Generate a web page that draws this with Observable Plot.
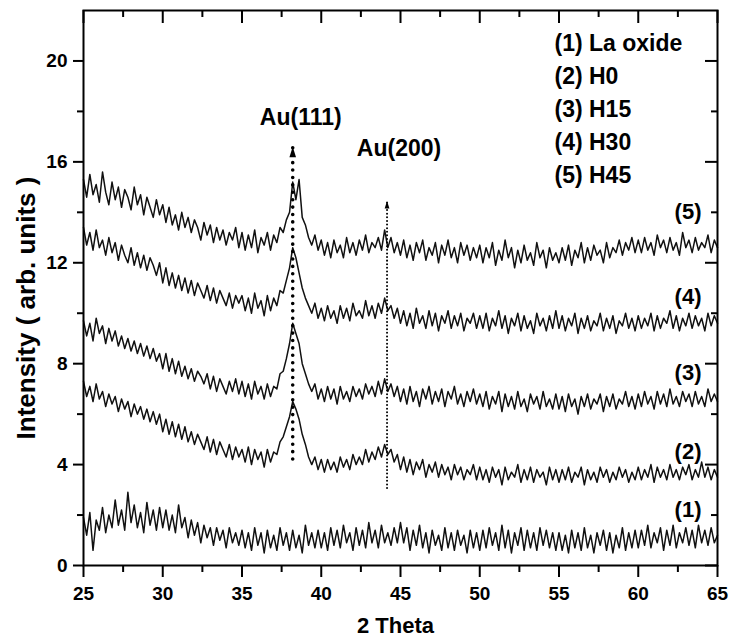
<!DOCTYPE html>
<html>
<head>
<meta charset="utf-8">
<script src="https://cdn.jsdelivr.net/npm/d3@7"></script>
<script src="https://cdn.jsdelivr.net/npm/@observablehq/plot@0.6"></script>
<style>
  html, body { margin: 0; padding: 0; background: #fff; }
  #chart svg { display: block; }
</style>
</head>
<body>
<div id="chart"></div>
<script>
// ---- sampling of the 2θ axis (degrees) ----
const twoThetaStart = 25;
const twoThetaStep = 0.2;

// ---- series intensities (arb. units), 25° → 65° every 0.2° ----
const laOxide = [
  1.9, 1.2, 2.1, 0.6, 1.8, 1.4, 2.3, 1.3, 2.0, 1.5, 2.6, 1.6, 2.2, 1.4, 2.9, 1.7, 2.4, 1.5, 2.1, 1.3, 2.5, 1.6, 2.2, 1.4, 2.3,
  1.5, 2.2, 1.4, 2.0, 1.3, 2.4, 1.5, 1.9, 1.1, 1.8, 1.2, 1.7, 0.9, 1.6, 1.1, 1.5, 0.8, 1.5, 1.0, 1.4, 0.7, 1.5, 0.9, 1.3, 0.8,
  1.4, 0.7, 1.3, 0.6, 1.5, 0.8, 1.3, 0.5, 1.4, 0.7, 1.2, 0.6, 1.5, 0.8, 1.3, 0.6, 1.4, 0.7, 1.2, 0.5, 1.6, 0.8, 1.3, 0.7, 1.4,
  0.7, 1.3, 0.6, 1.5, 0.8, 1.4, 0.7, 1.6, 0.9, 1.3, 0.6, 1.5, 0.8, 1.4, 0.7, 1.7, 0.9, 1.4, 0.7, 1.6, 0.9, 1.3, 0.8, 1.5, 0.9,
  1.7, 0.9, 1.5, 0.6, 1.4, 0.8, 1.6, 0.7, 1.3, 0.5, 1.4, 0.8, 1.2, 0.6, 1.5, 0.7, 1.3, 0.6, 1.4, 0.8, 1.2, 0.5, 1.4, 0.7, 1.3,
  0.6, 1.4, 0.7, 1.5, 0.8, 1.3, 0.6, 1.6, 0.7, 1.4, 0.5, 1.3, 0.8, 1.5, 0.6, 1.4, 0.7, 1.3, 0.6, 1.5, 0.8, 1.4, 0.7, 1.3, 0.6,
  1.3, 0.6, 1.2, 0.5, 1.4, 0.7, 1.3, 0.6, 1.5, 0.7, 1.2, 0.5, 1.3, 0.8, 1.4, 0.6, 1.3, 0.5, 1.2, 0.7, 1.5, 0.6, 1.3, 0.7, 1.4,
  0.7, 1.4, 0.8, 1.6, 0.7, 1.3, 0.9, 1.5, 0.6, 1.4, 0.8, 1.6, 0.7, 1.3, 0.9, 1.5, 0.8, 1.4, 0.7, 1.6, 0.9, 1.4, 0.8, 1.5, 0.9,
  1.2
];
const h0 = [
  7.3, 6.7, 7.1, 6.5, 7.2, 6.6, 6.9, 6.3, 6.8, 6.4, 6.7, 6.1, 6.6, 6.2, 6.5, 5.9, 6.4, 6.0, 6.3, 5.8, 6.2, 5.7, 6.1, 5.6, 6.0,
  5.3, 5.8, 5.2, 5.7, 5.1, 5.6, 5.0, 5.5, 4.9, 5.3, 4.8, 5.2, 4.9, 4.6, 5.1, 4.5, 5.0, 4.4, 4.9, 4.6, 4.3, 4.8, 4.2, 4.7, 4.3,
  4.6, 4.1, 4.7, 4.0, 4.6, 4.2, 4.5, 3.9, 4.6, 4.1, 4.5, 4.4, 4.9, 5.1, 5.5, 5.9, 6.5, 6.2, 5.8, 5.2, 4.8, 4.3, 4.0, 4.3, 3.8,
  4.2, 3.7, 4.2, 3.8, 4.1, 3.7, 4.3, 3.9, 4.2, 3.8, 4.4, 4.0, 4.3, 4.0, 4.6, 4.1, 4.5, 4.2, 4.7, 4.3, 4.8, 4.4, 4.6, 4.1, 4.4,
  3.8, 4.3, 3.7, 4.2, 3.6, 4.1, 3.8, 4.2, 3.5, 4.0, 3.7, 4.1, 3.5, 4.0, 3.6, 3.9, 3.4, 4.0, 3.6, 3.9, 3.4, 3.8, 3.6, 4.0, 3.4,
  3.9, 3.4, 3.8, 3.3, 3.9, 3.5, 3.8, 3.2, 3.9, 3.4, 3.7, 3.5, 4.0, 3.3, 3.8, 3.4, 3.9, 3.3, 3.8, 3.5, 3.7, 3.2, 3.9, 3.4, 3.8,
  3.3, 3.8, 3.4, 3.9, 3.3, 3.7, 3.5, 3.9, 3.2, 3.8, 3.4, 3.7, 3.3, 3.9, 3.5, 3.8, 3.3, 3.7, 3.4, 3.9, 3.5, 3.8, 3.3, 3.7, 3.4,
  3.9, 3.4, 3.8, 3.5, 4.0, 3.3, 3.9, 3.5, 3.8, 3.4, 4.0, 3.5, 3.8, 3.4, 3.9, 3.6, 4.0, 3.4, 3.8, 3.5, 4.1, 3.5, 3.9, 3.4, 3.8,
  3.5
];
const h15 = [
  9.7, 9.1, 9.6, 8.9, 9.8, 9.2, 9.5, 8.8, 9.4, 8.9, 9.3, 8.7, 9.1, 8.6, 9.0, 8.5, 8.9, 8.4, 8.8, 8.3, 8.7, 8.2, 8.6, 8.1, 8.4,
  7.8, 8.4, 7.7, 8.2, 7.6, 8.1, 7.5, 7.9, 7.4, 7.8, 7.3, 7.7, 7.5, 7.2, 7.6, 7.0, 7.5, 6.9, 7.4, 7.1, 6.8, 7.3, 6.9, 7.4, 6.8,
  7.3, 6.7, 7.2, 6.6, 7.3, 6.8, 7.1, 6.6, 7.2, 6.7, 7.1, 7.0, 7.6, 7.7, 8.2, 8.8, 9.6, 9.2, 8.8, 8.0, 7.6, 7.2, 6.9, 7.2, 6.6,
  7.0, 6.5, 7.1, 6.6, 7.0, 6.4, 7.1, 6.6, 6.9, 6.5, 7.1, 6.7, 7.0, 6.6, 7.2, 6.8, 7.1, 6.7, 7.3, 6.8, 7.4, 6.9, 7.2, 6.7, 7.1,
  6.5, 7.0, 6.4, 7.1, 6.5, 6.9, 6.3, 7.0, 6.6, 7.1, 6.4, 6.9, 6.5, 7.0, 6.3, 6.9, 6.6, 7.1, 6.4, 6.8, 6.3, 6.9, 6.5, 7.0, 6.4,
  6.8, 6.3, 6.9, 6.2, 6.7, 6.4, 6.9, 6.1, 6.8, 6.3, 6.7, 6.2, 6.9, 6.3, 6.6, 6.1, 6.8, 6.4, 6.7, 6.2, 6.9, 6.3, 6.6, 6.2, 6.8,
  6.2, 6.7, 6.1, 6.8, 6.3, 6.6, 6.0, 6.7, 6.3, 6.8, 6.2, 6.6, 6.4, 6.8, 6.1, 6.7, 6.3, 6.8, 6.2, 6.6, 6.4, 6.9, 6.3, 6.7, 6.2,
  6.8, 6.3, 6.9, 6.4, 6.7, 6.2, 6.9, 6.4, 6.8, 6.3, 7.0, 6.4, 6.7, 6.3, 6.9, 6.5, 6.8, 6.3, 6.9, 6.4, 6.7, 6.3, 7.0, 6.5, 6.8,
  6.5
];
const h30 = [
  13.4, 12.7, 13.2, 12.5, 13.3, 12.6, 12.9, 12.3, 13.0, 12.4, 12.8, 12.1, 12.7, 12.3, 12.0, 12.6, 11.9, 12.4, 11.8, 12.3, 11.7, 12.2, 11.9, 11.5, 12.0,
  11.2, 11.8, 11.1, 11.6, 11.0, 11.5, 10.9, 11.4, 10.8, 11.3, 10.7, 11.2, 10.9, 10.6, 11.1, 10.5, 11.0, 10.4, 10.9, 10.6, 10.3, 10.8, 10.2, 10.7, 10.4,
  10.7, 10.1, 10.6, 10.0, 10.8, 10.2, 10.5, 9.9, 10.7, 10.1, 10.6, 10.3, 10.9, 10.8, 11.3, 11.8, 12.6, 12.2, 11.6, 11.0, 10.6, 10.3, 10.0, 10.4, 9.8,
  10.2, 9.7, 10.3, 9.8, 10.1, 9.6, 10.3, 9.8, 10.2, 9.7, 10.4, 9.9, 10.1, 9.8, 10.5, 9.9, 10.3, 9.8, 10.4, 10.0, 10.6, 10.1, 10.3, 9.8, 10.2,
  9.6, 10.1, 9.5, 10.0, 9.4, 10.2, 9.6, 9.9, 9.4, 10.1, 9.5, 10.0, 9.3, 9.9, 9.6, 10.1, 9.4, 9.9, 9.5, 10.0, 9.3, 9.8, 9.6, 10.0, 9.4,
  9.9, 9.4, 10.0, 9.3, 9.8, 9.5, 10.1, 9.4, 9.9, 9.2, 9.8, 9.5, 10.0, 9.3, 9.9, 9.4, 9.7, 9.2, 10.0, 9.5, 9.8, 9.3, 9.9, 9.4, 10.1,
  9.4, 9.9, 9.3, 9.8, 9.5, 10.0, 9.2, 9.8, 9.4, 9.9, 9.3, 9.7, 9.5, 10.0, 9.3, 9.8, 9.4, 9.9, 9.2, 9.7, 9.5, 10.0, 9.4, 9.8, 9.3,
  9.9, 9.4, 9.8, 9.5, 10.0, 9.3, 9.9, 9.4, 9.8, 9.6, 10.1, 9.4, 9.9, 9.3, 9.8, 9.5, 10.0, 9.4, 9.9, 9.5, 9.8, 9.3, 10.0, 9.5, 9.9,
  9.6
];
const h45 = [
  15.3, 14.6, 15.5, 14.7, 15.1, 14.4, 15.6, 14.8, 14.3, 15.2, 14.5, 15.0, 14.2, 14.9, 14.6, 14.1, 15.0, 14.3, 14.7, 13.9, 14.6, 14.2, 13.8, 14.5, 13.9,
  14.3, 13.6, 14.2, 13.5, 13.9, 13.3, 14.0, 13.4, 13.8, 13.2, 13.7, 13.4, 12.9, 13.6, 13.1, 13.5, 12.8, 13.4, 12.9, 13.3, 12.7, 13.2, 12.9, 13.4, 12.6,
  13.2, 12.5, 13.1, 12.6, 13.3, 12.4, 13.0, 12.7, 13.2, 12.5, 13.1, 12.8, 13.4, 13.2, 13.7, 14.0, 15.2, 14.5, 15.3, 13.8, 13.5, 13.0, 12.7, 13.1, 12.5,
  12.9, 12.3, 12.8, 12.2, 12.9, 12.4, 12.7, 12.2, 13.0, 12.4, 12.8, 12.3, 12.9, 12.5, 13.1, 12.4, 12.8, 12.6, 13.0, 12.5, 13.3, 12.6, 13.0, 12.4, 12.8,
  12.3, 12.9, 12.2, 12.7, 12.1, 12.8, 12.4, 12.9, 12.1, 12.6, 12.3, 12.8, 12.0, 12.7, 12.3, 12.9, 12.2, 12.6, 12.0, 12.8, 12.3, 12.7, 12.1, 12.6, 12.2,
  12.7, 12.0, 12.6, 12.2, 12.8, 11.9, 12.5, 12.1, 12.9, 12.2, 12.6, 11.8, 12.5, 12.0, 12.7, 12.1, 12.4, 11.9, 12.8, 12.2, 12.5, 11.8, 12.6, 12.1, 12.4,
  12.0, 12.6, 12.1, 12.7, 11.9, 12.5, 12.2, 12.8, 12.0, 12.6, 12.1, 12.7, 12.3, 12.5, 12.0, 12.8, 12.2, 12.6, 12.4, 12.9, 12.3, 12.8, 12.5, 13.0, 12.4,
  12.9, 12.4, 13.0, 12.5, 12.8, 12.3, 13.1, 12.6, 12.9, 12.4, 13.0, 12.5, 12.8, 12.3, 13.2, 12.6, 12.9, 12.4, 13.0, 12.5, 12.8, 12.6, 13.1, 12.4, 12.9,
  12.6
];

// ---- names ----
const seriesNames = ["(1) La oxide", "(2) H0", "(3) H15", "(4) H30", "(5) H45"];
const seriesTags = ["(1)", "(2)", "(3)", "(4)", "(5)"];
const tagLevels = [2.2, 4.5, 7.65, 10.65, 14.0];   // intensity where each tag sits

// ---- peak annotations ----
const peakLabels = ["Au(111)", "Au(200)"];
const peakTwoTheta = [38.2, 44.15];
const peakArrowFrom = [4.2, 3.05];
const peakArrowTo = [16.6, 14.45];

// ---- ticks ----
const xMajorTicks = [25, 30, 35, 40, 45, 50, 55, 60, 65];
const xMinorTicks = [27.5, 32.5, 37.5, 42.5, 47.5, 52.5, 57.5, 62.5];
const yMajorTicks = [0, 4, 8, 12, 16, 20];
const yMinorTicks = [2, 6, 10, 14, 18];

// ---- tables built from the arrays ----
const seriesValues = [laOxide, h0, h15, h30, h45];
const rows = [];
seriesValues.forEach((vals, s) => {
  vals.forEach((v, i) => rows.push({ twoTheta: twoThetaStart + twoThetaStep * i, intensity: v, series: seriesNames[s] }));
});
const peaks = peakLabels.map((label, i) => ({ label, x: peakTwoTheta[i], y1: peakArrowFrom[i], y2: peakArrowTo[i] }));
const tags = seriesTags.map((t, i) => ({ t, y: tagLevels[i] }));

// custom narrow arrow-head symbol (tip at the anchor point)
const arrowHead = {
  draw(context, size) {
    const r = Math.sqrt(size / Math.PI);
    context.moveTo(0, 0);
    context.lineTo(0.6 * r, 1.9 * r);
    context.lineTo(-0.6 * r, 1.9 * r);
    context.closePath();
  }
};

const W = 729, H = 643;
const mL = 83, mR = 12, mT = 10, mB = 78;
const innerW = W - mL - mR, innerH = H - mT - mB;
const fontFamily = "'Liberation Sans', Arial, Helvetica, sans-serif";

const chart = Plot.plot({
  width: W,
  height: H,
  marginLeft: mL,
  marginRight: mR,
  marginTop: mT,
  marginBottom: mB,
  style: `font-family: ${fontFamily}; font-weight: bold; color: #000; background: #fff;`,
  x: { domain: [25, 65], label: null },
  y: { domain: [0, 22], label: null },
  marks: [
    Plot.lineY(rows, { x: "twoTheta", y: "intensity", z: "series", stroke: "#111", strokeWidth: 1.5, strokeLinejoin: "round" }),

    // dotted peak markers
    Plot.ruleX(peaks.slice(0, 1), { x: "x", y1: "y1", y2: "y2", stroke: "#000", strokeWidth: 3.6, strokeDasharray: "0.01,7.4", strokeLinecap: "round" }),
    Plot.ruleX(peaks.slice(1, 2), { x: "x", y1: "y1", y2: "y2", stroke: "#000", strokeWidth: 2, strokeDasharray: "0.01,3.6", strokeLinecap: "round" }),
    Plot.dot(peaks.slice(0, 1), { x: "x", y: "y2", symbol: arrowHead, r: 5.5, fill: "#000", stroke: "none" }),
    Plot.dot(peaks.slice(1, 2), { x: "x", y: "y2", symbol: arrowHead, r: 4, fill: "#000", stroke: "none" }),
    Plot.text(peaks.slice(0, 1), { x: "x", y: "y2", text: "label", dx: 8, dy: -29, fontSize: 23, fontWeight: "bold", fill: "#000" }),
    Plot.text(peaks.slice(1, 2), { x: "x", y: "y2", text: "label", dx: 12, dy: -52, fontSize: 23, fontWeight: "bold", fill: "#000" }),

    // series tags at the right
    Plot.text(tags, { frameAnchor: "right", y: "y", text: "t", dx: -16, textAnchor: "end", fontSize: 22, fontWeight: "bold", fill: "#000" }),

    // legend block
    Plot.text([seriesNames.join("\n")], { frameAnchor: "top-left", text: d => d, dx: 471, dy: 17, lineAnchor: "top", textAnchor: "start", lineHeight: 1.44, fontSize: 23, fontWeight: "bold", fill: "#000" }),

    // axis titles
    Plot.text(["2 Theta"], { frameAnchor: "bottom", text: d => d, dx: -5, dy: 67, fontSize: 22, fontWeight: "bold", fill: "#000" }),
    Plot.text(["Intensity ( arb. units )"], { frameAnchor: "left", text: d => d, dx: -57, dy: 20, rotate: -90, textAnchor: "middle", fontSize: 26, fontWeight: "bold", fill: "#000" }),

    // bottom / left axes (outward ticks)
    Plot.axisX(xMajorTicks, { anchor: "bottom", tickSize: 12, tickPadding: 9, fontSize: 19, fontWeight: "bold", strokeWidth: 2, label: null }),
    Plot.axisX(xMinorTicks, { anchor: "bottom", tickSize: 7, strokeWidth: 2, tickFormat: () => "", label: null }),
    Plot.axisY(yMajorTicks, { anchor: "left", tickSize: 10, tickPadding: 6, fontSize: 19, fontWeight: "bold", strokeWidth: 2, label: null }),
    Plot.axisY(yMinorTicks, { anchor: "left", tickSize: 6, strokeWidth: 2, tickFormat: () => "", label: null }),

    // top / right mirror ticks (inward)
    Plot.tickX(xMajorTicks, { x: d => d, insetBottom: innerH - 13, stroke: "#000", strokeWidth: 2 }),
    Plot.tickX(xMinorTicks, { x: d => d, insetBottom: innerH - 7, stroke: "#000", strokeWidth: 2 }),
    Plot.tickY(yMajorTicks, { y: d => d, insetLeft: innerW - 12, stroke: "#000", strokeWidth: 2 }),
    Plot.tickY(yMinorTicks, { y: d => d, insetLeft: innerW - 6, stroke: "#000", strokeWidth: 2 }),

    Plot.frame({ stroke: "#000", strokeWidth: 2 })
  ]
});

document.getElementById("chart").appendChild(chart);
</script>
</body>
</html>
